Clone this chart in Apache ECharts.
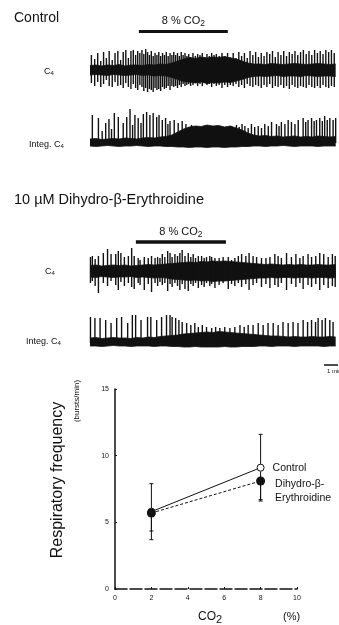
<!DOCTYPE html>
<html><head><meta charset="utf-8">
<script src="https://cdn.jsdelivr.net/npm/echarts@6/dist/echarts.min.js"></script>
<style>html,body{margin:0;padding:0;background:#fff}#c{width:339px;height:625px}</style>
</head><body><div id="c"></div><script>
// ---- recording traces: time in s, amplitudes in trace units ----
const envT = [0,25,50,75,100,125,150,175,200,225,250,275,300,325,350,375,400,425,450,475,500,525,550,575,600,
              625,650,675,700,725,750,775,800,825,850,875,900,925,950,975,1000,1025,1050];

// Control, C4 neurogram: noise band and bursts [t, up, down]
const ctlRawHi = [4.5,5,4,5,4.5,5.5,4,5,5,4.5,5.5,5,6,5.5, 7,9,11,12.5,11.5,13,12,13,12.5,13.5,12,11,9,7,6,
                  6,5.5,6.5,6,5.5,6,6.5,6,5.5,6,6.5,6,5.5,6];
const ctlRawLo = [-5,-4.5,-5,-5.5,-4.5,-5,-5.5,-5,-4.5,-5.5,-5,-6,-5.5,-6, -7.5,-9.5,-11.5,-12,-13,-12,-13.5,-12.5,-13,-12,-12.5,-11,-9.5,-7.5,-6.5,
                  -6,-6.5,-6,-5.5,-6.5,-6,-6,-6.5,-5.5,-6,-6.5,-6,-6,-6.5];
const ctlRawSpikes = [
  [6,15,13],[20,11,16],[33,17,12],[46,9,17],[58,18,14],[70,12,10],[82,19,16],[95,10,17],[107,17,12],[119,19,16],
  [131,10,15],[142,18,18],[153,20,13],[164,12,17],[175,19,19],[185,20,14],[195,15,18],[204,19,20],[213,17,15],
  [222,20,17],[230,16,21],[238,21,18],[246,18,22],[254,15,19],[262,19,20],[270,14,22],[278,17,18],[286,15,20],
  [294,18,19],[302,14,21],[310,17,17],[318,15,19],[326,18,18],[334,14,16],[342,17,20],[350,15,16],[358,18,17],
  [366,15,16],[374,17,18],[382,14,15],[390,18,17],[398,15,14],[406,17,16],[414,14,15],[422,16,14],[430,13,16],
  [440,17,15],[450,14,13],[460,16,16],[470,15,14],[480,17,16],[490,13,13],[500,16,15],[510,14,14],[520,17,17],
  [530,15,14],[540,16,16],[552,14,15],[564,17,18],[576,14,15],[588,17,17],
  [600,13,15],[612,17,16],[624,12,14],[636,18,17],[648,14,15],[660,17,18],[672,12,14],[684,19,16],[696,15,17],
  [708,18,15],[720,13,16],[732,17,18],[744,14,15],[756,18,17],[768,16,14],[780,19,18],[792,13,16],[804,18,17],
  [816,15,15],[828,19,18],[840,14,16],[852,18,19],[864,16,15],[876,19,17],[888,15,18],[900,18,16],[912,20,17],
  [924,16,18],[936,19,15],[948,15,17],[960,20,18],[972,17,16],[984,19,18],[996,16,15],[1008,20,17],[1020,18,18],
  [1032,20,16],[1044,17,17]
];

// Control, integrated C4: band and bursts [t, height, 0]
const ctlIntHi = [4,4.5,3.5,4,4.5,4,5,4.5,4,5,5.5,5,6,6.5, 8,11,14,16,17,16.5,18,17,17.5,16,17,15,13,10,8,
                  7,7.5,6.5,7,6,6.5,7,6,6.5,6,7,6.5,6,6.5];
const ctlIntLo = [-3,-3.5,-3,-2.5,-3,-3.5,-3,-3,-2.5,-3,-3.5,-3,-3,-3.5, -3.5,-4,-4,-4.5,-4,-4,-4.5,-4,-4,-4.5,-4,-4,-3.5,-3.5,-3,
                  -3,-3.5,-3,-3,-2.5,-3,-3.5,-3,-3,-3,-3.5,-3,-3,-3];
const ctlIntSpikes = [
  [10,28,0],[36,25,0],[52,12,0],[67,20,0],[81,24,0],[92,14,0],[104,30,0],[121,26,0],[142,20,0],[157,26,0],
  [171,34,0],[182,18,0],[192,28,0],[206,25,0],[218,20,0],[228,29,0],[242,31,0],[256,28,0],[270,30,0],[285,26,0],
  [295,28,0],[309,23,0],[323,25,0],[333,19,0],[342,22,0],[360,23,0],[377,20,0],[394,22,0],
  [410,19,0],[422,16,0],[434,18,0],[446,15,0],[458,17,0],[470,14,0],[482,16,0],[494,15,0],[506,17,0],[518,14,0],
  [530,16,0],[542,15,0],[554,17,0],[566,14,0],[578,16,0],[590,15,0],[602,17,0],[614,15,0],[626,18,0],[638,16,0],
  [650,19,0],[662,17,0],[676,15,0],[690,19,0],[704,16,0],[719,17,0],[733,15,0],[747,19,0],[762,17,0],[776,21,0],
  [797,19,0],[808,17,0],[818,21,0],[833,19,0],[847,23,0],[861,21,0],[876,19,0],[890,23,0],[911,25,0],[922,21,0],
  [932,23,0],[947,25,0],[958,22,0],[968,23,0],[982,25,0],[993,22,0],[1003,27,0],[1014,23,0],[1025,25,0],
  [1039,23,0],[1050,25,0]
];

// 10 µM dihydro-β-erythroidine, C4 neurogram
const dheRawHi = [5.5,6,5,5.5,6,5.5,6,5,5.5,6,6.5,6,6.5,7, 7.5,8,8.5,9,8.5,9.5,9,10,9.5,10,9.5,9,8.5,8,7.5,
                  7,6.5,7,6.5,6,6.5,6,6.5,6,6,6.5,6,6,6.5];
const dheRawLo = [-6,-6.5,-5.5,-6,-6.5,-6,-6,-5.5,-6.5,-6,-6.5,-7,-6.5,-7, -8,-8.5,-9,-9.5,-9,-10,-9.5,-10.5,-10,-10,-9.5,-9,-8.5,-8,-7.5,
                  -7,-7,-6.5,-7,-6.5,-6.5,-7,-6.5,-6.5,-7,-6.5,-6.5,-7,-6.5];
const dheRawSpikes = [
  [2,14,12],[10,15,10],[22,12,15],[36,15,22],[57,18,12],[75,22,15],[90,17,10],[110,17,14],[121,20,19],[132,18,11],
  [147,14,15],[164,15,12],[178,23,16],[189,15,18],[206,13,12],[214,11,14],[232,14,19],[249,13,13],[263,15,21],
  [278,13,12],[289,14,15],[299,13,11],[309,17,14],[320,14,12],[332,20,20],[342,18,13],[351,14,16],[363,17,12],
  [374,15,15],[384,18,19],[394,21,13],[406,15,18],[420,18,20],[431,14,13],[441,17,15],[451,13,12],[463,15,17],
  [477,15,14],[488,13,16],[498,14,12],[512,15,15],[520,14,13],[534,13,17],[552,13,14],[569,14,12],[591,14,18],
  [605,11,13],[619,13,15],[634,15,12],[648,17,16],[666,15,13],[680,18,19],[697,15,14],[712,14,12],[733,13,16],
  [752,13,13],[769,14,17],[790,17,14],[804,15,16],[818,13,12],[840,18,19],[861,14,13],[880,17,16],[897,13,12],
  [911,15,18],[932,17,14],[947,14,16],[965,15,13],[982,18,19],[999,17,14],[1018,14,17],[1036,17,15],[1048,15,16]
];

// 10 µM dihydro-β-erythroidine, integrated C4
const dheIntHi = [5,5.5,4.5,5,5.5,5,5,4.5,5.5,5,6,5.5,6.5,7, 7.5,8,9,9.5,10,10.5,11,10.5,11.5,11,10.5,10,9.5,9,8.5,
                  8,7.5,7,7,6.5,6,6.5,6,6,6.5,6,6,6.5,6];
const dheIntLo = [-3,-3,-3.5,-3,-2.5,-3,-3,-3.5,-3,-3,-3,-3.5,-3,-3, -3.5,-3.5,-4,-4,-3.5,-4,-4,-4,-4,-3.5,-4,-4,-3.5,-3.5,-3.5,
                  -3,-3,-3.5,-3,-3,-3,-3.5,-3,-3,-3,-3,-3.5,-3,-3];
const dheIntSpikes = [
  [2,26,0],[21,25,0],[43,25,0],[67,23,0],[90,20,0],[114,25,0],[135,26,0],[161,20,0],[181,28,0],[195,28,0],
  [218,23,0],[246,26,0],[260,26,0],[285,23,0],[306,26,0],[327,28,0],[342,28,0],[351,26,0],[366,25,0],[380,23,0],
  [394,21,0],[413,20,0],[431,18,0],[448,20,0],[463,16,0],[480,18,0],[498,16,0],[520,15,0],[537,16,0],[555,15,0],
  [576,16,0],[598,15,0],[619,16,0],[641,18,0],[659,16,0],[676,18,0],[697,18,0],[719,20,0],[740,18,0],[761,20,0],
  [783,20,0],[804,18,0],[825,21,0],[847,20,0],[868,21,0],[889,20,0],[911,23,0],[930,21,0],[947,23,0],[964,21,0],
  [975,25,0],[992,23,0],[1006,25,0],[1025,23,0],[1039,21,0]
];

// 8 % CO2 exposure windows and the time scale bar (s)
const ctlCO2 = [209, 589];
const dheCO2 = [196, 581];
const scaleBar = [1000, 1060];

// ---- summary plot: respiratory frequency vs CO2 ----
const co2Levels = [2, 8];
const ctlFreq = [5.8, 9.1];
const ctlErr = [2.1, 2.5];      // shown above and below
const dheFreq = [5.7, 8.1];
const dheErr = [1.35, 1.4];     // shown below only
const freqTicks = [0, 5, 10, 15];
const co2Ticks = [0, 2, 4, 6, 8, 10];

const FONT = "'Liberation Sans', Arial, Helvetica, sans-serif";
const INK = '#111';

function zip(xs, ys) { return xs.map((x, i) => [x, ys[i]]); }

function spikeItem(params, api) {
  const t = api.value(0), up = api.value(1), dn = api.value(2);
  const a = api.coord([t, up]), b = api.coord([t, -dn]);
  return { type: 'line', shape: { x1: a[0], y1: a[1], x2: b[0], y2: b[1] },
           style: { stroke: INK, lineWidth: 1.4 } };
}
function bandSeries(idx, vals) {
  return { type: 'line', xAxisIndex: idx, yAxisIndex: idx, data: zip(envT, vals),
           symbol: 'none', lineStyle: { width: 0.8, color: INK },
           areaStyle: { color: INK, opacity: 1, origin: 0 }, silent: true, z: 2 };
}
function spikeSeries(idx, data) {
  return { type: 'custom', xAxisIndex: idx, yAxisIndex: idx, data: data,
           renderItem: spikeItem, silent: true, z: 3 };
}
const co2Label = {
  show: true, position: 'middle', distance: 5,
  formatter: '{a|8 % CO}{b|2}',
  rich: { a: { fontSize: 11, fontFamily: FONT, color: INK, lineHeight: 14, verticalAlign: 'bottom' },
          b: { fontSize: 8.5, fontFamily: FONT, color: INK, lineHeight: 14, verticalAlign: 'bottom', padding: [0,0,-2,0] } }
};
function barLine(span, y, width, label) {
  return { silent: true, symbol: ['none', 'none'], animation: false,
           lineStyle: { color: INK, width: width, type: 'solid' },
           label: label,
           data: [[{ coord: [span[0], y] }, { coord: [span[1], y] }]] };
}

// error bar with small caps: [x, mean, errAbove, errBelow]
function errItem(params, api) {
  const x = api.value(0), m = api.value(1), eu = api.value(2), ed = api.value(3);
  const top = api.coord([x, m + eu]), bot = api.coord([x, m - ed]);
  const cap = 2, st = { stroke: INK, lineWidth: 1 };
  const kids = [{ type: 'line', shape: { x1: top[0], y1: top[1], x2: bot[0], y2: bot[1] }, style: st }];
  if (eu > 0) kids.push({ type: 'line', shape: { x1: top[0]-cap, y1: top[1], x2: top[0]+cap, y2: top[1] }, style: st });
  if (ed > 0) kids.push({ type: 'line', shape: { x1: bot[0]-cap, y1: bot[1], x2: bot[0]+cap, y2: bot[1] }, style: st });
  return { type: 'group', children: kids };
}

const traceX = { type: 'value', min: 0, max: 1060, show: false };
const chart = echarts.init(document.getElementById('c'), null, { renderer: 'canvas' });

const sub = (big, small) => ({
  rich: { a: { fontSize: big, fontFamily: FONT, fill: INK, lineHeight: big + 3, verticalAlign: 'bottom' },
          b: { fontSize: small, fontFamily: FONT, fill: INK, lineHeight: big + 3, verticalAlign: 'bottom' } }
});

chart.setOption({
  animation: false,
  backgroundColor: '#fff',
  grid: [
    { left: 90, width: 248, top: 24, height: 68 },
    { left: 90, width: 248, top: 108, height: 40 },
    { left: 90, width: 248, top: 236, height: 58 },
    { left: 90, width: 248, top: 312, height: 56 },
    { left: 115, width: 182, top: 389, height: 200 }
  ],
  xAxis: [
    Object.assign({ gridIndex: 0 }, traceX),
    Object.assign({ gridIndex: 1 }, traceX),
    Object.assign({ gridIndex: 2 }, traceX),
    Object.assign({ gridIndex: 3 }, traceX),
    { gridIndex: 4, type: 'value', min: co2Ticks[0], max: co2Ticks[co2Ticks.length - 1], interval: co2Ticks[1] - co2Ticks[0],
      axisLine: { onZero: false, lineStyle: { color: INK, width: 1.5, type: [12, 3] } },
      axisTick: { inside: true, length: 2, lineStyle: { color: INK } },
      axisLabel: { fontSize: 7, color: INK, fontFamily: FONT, margin: 6 },
      splitLine: { show: false } }
  ],
  yAxis: [
    { gridIndex: 0, type: 'value', min: -22, max: 46, show: false },
    { gridIndex: 1, type: 'value', min: -5, max: 35, show: false },
    { gridIndex: 2, type: 'value', min: -23, max: 35, show: false },
    { gridIndex: 3, type: 'value', min: -25, max: 31, show: false },
    { gridIndex: 4, type: 'value', min: freqTicks[0], max: freqTicks[freqTicks.length - 1], interval: freqTicks[1] - freqTicks[0],
      axisLine: { show: true, lineStyle: { color: INK, width: 1.5 } },
      axisTick: { show: true, inside: true, length: 2, lineStyle: { color: INK } },
      axisLabel: { fontSize: 7, color: INK, fontFamily: FONT, margin: 6 },
      splitLine: { show: false } }
  ],
  series: [
    Object.assign(bandSeries(0, ctlRawHi), { markLine: barLine(ctlCO2, 39, 3, co2Label) }),
    bandSeries(0, ctlRawLo),
    spikeSeries(0, ctlRawSpikes),

    bandSeries(1, ctlIntHi),
    bandSeries(1, ctlIntLo),
    spikeSeries(1, ctlIntSpikes),

    Object.assign(bandSeries(2, dheRawHi), { markLine: barLine(dheCO2, 29, 3.5, co2Label) }),
    bandSeries(2, dheRawLo),
    spikeSeries(2, dheRawSpikes),

    Object.assign(bandSeries(3, dheIntHi), { markLine: barLine(scaleBar, -22, 1.5, {
      show: true, position: 'insideStartBottom', distance: 3, formatter: '1 min',
      fontSize: 6, color: INK, fontFamily: FONT, padding: 0 }) }),
    bandSeries(3, dheIntLo),
    spikeSeries(3, dheIntSpikes),

    { type: 'custom', xAxisIndex: 4, yAxisIndex: 4, renderItem: errItem, silent: true, z: 3,
      data: co2Levels.map((x, i) => [x, ctlFreq[i], ctlErr[i], ctlErr[i]])
              .concat(co2Levels.map((x, i) => [x, dheFreq[i], 0, dheErr[i]])) },
    { type: 'line', xAxisIndex: 4, yAxisIndex: 4, z: 4, data: zip(co2Levels, ctlFreq),
      symbol: 'circle', symbolSize: 7,
      itemStyle: { color: '#fff', borderColor: INK, borderWidth: 1 },
      lineStyle: { color: INK, width: 1 },
      label: { show: true, position: 'right', distance: 8, fontSize: 10.5, color: INK, fontFamily: FONT,
               formatter: p => p.dataIndex === 1 ? 'Control' : '' } },
    { type: 'line', xAxisIndex: 4, yAxisIndex: 4, z: 5, data: zip(co2Levels, dheFreq),
      symbol: 'circle', symbolSize: 9,
      itemStyle: { color: INK, borderColor: INK, borderWidth: 0 },
      lineStyle: { color: INK, width: 1, type: [3, 2] },
      label: { show: true, position: 'right', distance: 10, offset: [0, 10], fontSize: 10.5, lineHeight: 14,
               color: INK, fontFamily: FONT, align: 'left',
               formatter: p => p.dataIndex === 1 ? 'Dihydro-β-\nErythroidine' : '' } }
  ],
  graphic: [
    { type: 'text', x: 14, y: 18, style: { text: 'Control', font: '14px ' + FONT, fill: INK, verticalAlign: 'middle' } },
    { type: 'text', x: 14, y: 200, style: { text: '10 µM Dihydro-β-Erythroidine', font: '14.5px ' + FONT, fill: INK, verticalAlign: 'middle' } },
    { type: 'text', x: 44, y: 70, style: Object.assign({ text: '{a|C}{b|4}', verticalAlign: 'middle' }, sub(9, 6)) },
    { type: 'text', x: 29, y: 143, style: Object.assign({ text: '{a|Integ. C}{b|4}', verticalAlign: 'middle' }, sub(9, 6)) },
    { type: 'text', x: 45, y: 270, style: Object.assign({ text: '{a|C}{b|4}', verticalAlign: 'middle' }, sub(9, 6)) },
    { type: 'text', x: 26, y: 340, style: Object.assign({ text: '{a|Integ. C}{b|4}', verticalAlign: 'middle' }, sub(9, 6)) },
    { type: 'text', x: 58, y: 480, rotation: Math.PI / 2,
      style: { text: 'Respiratory frequency', font: '16px ' + FONT, fill: INK, align: 'center', verticalAlign: 'middle' } },
    { type: 'text', x: 77, y: 401, rotation: Math.PI / 2,
      style: { text: '(bursts/min)', font: '8px ' + FONT, fill: INK, align: 'center', verticalAlign: 'middle' } },
    { type: 'text', x: 198, y: 617, style: { text: 'CO', font: '12px ' + FONT, fill: INK, verticalAlign: 'middle' } },
    { type: 'text', x: 216, y: 620, style: { text: '2', font: '11px ' + FONT, fill: INK, verticalAlign: 'middle' } },
    { type: 'text', x: 283, y: 617, style: { text: '(%)', font: '11px ' + FONT, fill: INK, verticalAlign: 'middle' } }
  ]
});
</script></body></html>
